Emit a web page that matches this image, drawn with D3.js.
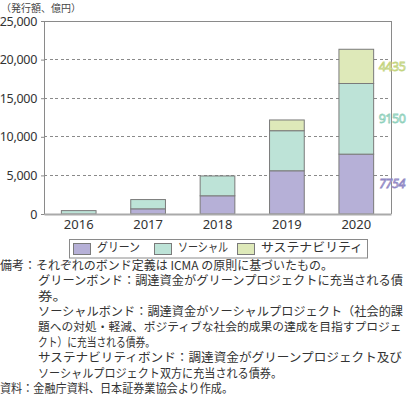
<!DOCTYPE html>
<html>
<head>
<meta charset="utf-8">
<script src="https://cdn.jsdelivr.net/npm/d3@7"></script>
<style>
  html, body { margin: 0; padding: 0; background: #fff; }
  svg { display: block; font-family: "Noto Sans CJK JP", "Noto Sans", sans-serif; }
</style>
</head>
<body>
<svg id="chart" width="407" height="396"></svg>
<script>
// ---- data ----
const years = ["2016", "2017", "2018", "2019", "2020"];
const seriesNames = ["グリーン", "ソーシャル", "サステナビリティ"];
const green = [0, 670, 2360, 5600, 7754];
const social = [440, 1200, 2570, 5190, 9150];
const sustain = [0, 0, 0, 1390, 4435];
const yTicks = [0, 5000, 10000, 15000, 20000, 25000];
const unitLabel = "（発行額、億円）";
const noteLines = [
  "備考：それぞれのボンド定義は ICMA の原則に基づいたもの。",
  "グリーンボンド：調達資金がグリーンプロジェクトに充当される債",
  "券。",
  "ソーシャルボンド：調達資金がソーシャルプロジェクト（社会的課",
  "題への対処・軽減、ポジティブな社会的成果の達成を目指すプロジェ",
  "クト）に充当される債券。",
  "サステナビリティボンド：調達資金がグリーンプロジェクト及び",
  "ソーシャルプロジェクト双方に充当される債券。",
  "資料：金融庁資料、日本証券業協会より作成。"
];

const fills = ["#b6b0d7", "#bde3d7", "#dee9b9"];
const labelFill = ["#efedf8", "#eef8f4", "#f5f8e8"];
const labelStroke = ["#8f87c4", "#8fd0bb", "#c3d47e"];

const svg = d3.select("#chart");
const plotL = 44, plotR = 391, plotT = 21, plotB = 214;

const x = d3.scaleBand().domain(years).range([plotL, plotR]).paddingInner(0.5).paddingOuter(0.25);
const y = d3.scaleLinear().domain([0, 25000]).range([plotB, plotT]);

// stacked data
const table = years.map((yr, i) => ({ year: yr, g: green[i], s: social[i], t: sustain[i] }));
const stack = d3.stack().keys(["g", "s", "t"])(table);

// gridlines (dashed)
svg.append("g").selectAll("line")
  .data(yTicks.filter(v => v > 0 && v < 25000))
  .join("line")
  .attr("x1", plotL).attr("x2", plotR)
  .attr("y1", d => y(d)).attr("y2", d => y(d))
  .attr("stroke", "#8a8a8a").attr("stroke-width", 1)
  .attr("stroke-dasharray", "3,2.5")
  .attr("shape-rendering", "crispEdges");

// frame: top, right
svg.append("line").attr("x1", plotL).attr("x2", plotR).attr("y1", y(25000)).attr("y2", y(25000))
  .attr("stroke", "#8a8a8a").attr("shape-rendering", "crispEdges");
svg.append("line").attr("x1", plotR).attr("x2", plotR).attr("y1", y(25000)).attr("y2", y(0))
  .attr("stroke", "#8a8a8a").attr("shape-rendering", "crispEdges");

// y axis
const yAxis = d3.axisLeft(y).tickValues(yTicks).tickSize(3).tickPadding(4)
  .tickFormat(d3.format(","));
const yg = svg.append("g").attr("transform", `translate(${plotL},0)`).call(yAxis);
yg.select(".domain").attr("stroke", "#8a8a8a");
yg.selectAll(".tick line").attr("stroke", "#8a8a8a");
yg.selectAll(".tick text").attr("fill", "#333").style("font-size", "12.5px")
  .style("font-family", "'Noto Sans', 'Noto Sans CJK JP', sans-serif").style("letter-spacing", "-0.3px");

// bars
svg.append("g").selectAll("g")
  .data(stack)
  .join("g")
  .attr("fill", (d, i) => fills[i])
  .selectAll("rect")
  .data(d => d.filter(p => p[1] - p[0] > 0))
  .join("rect")
  .attr("x", d => x(d.data.year))
  .attr("width", x.bandwidth())
  .attr("y", d => y(d[1]))
  .attr("height", d => y(d[0]) - y(d[1]))
  .attr("stroke", "#7a7a7a").attr("stroke-width", 1);

// x axis
const xAxis = d3.axisBottom(x).tickSize(0).tickPadding(6);
const xg = svg.append("g").attr("transform", `translate(0,${plotB})`).call(xAxis);
xg.select(".domain").attr("stroke", "#aaa").attr("stroke-width", 2);
xg.selectAll(".tick text").attr("fill", "#333").style("font-size", "13px")
  .style("font-family", "'Noto Sans', 'Noto Sans CJK JP', sans-serif");

// 2020 value labels
const last = years.length - 1;
stack.forEach((s, i) => {
  const p = s[last];
  svg.append("text")
    .attr("x", 392)
    .attr("y", (y(p[0]) + y(p[1])) / 2 + 1)
    .attr("text-anchor", "middle")
    .attr("dominant-baseline", "middle")
    .attr("fill", labelFill[i])
    .attr("stroke", labelStroke[i])
    .attr("stroke-width", 0.8)
    .style("font-size", "12.5px")
    .style("font-style", i === 0 ? "italic" : "normal")
    .style("font-family", "'Noto Sans', sans-serif")
    .style("letter-spacing", "-0.5px")
    .text([green, social, sustain][i][last]);
});

// unit label
svg.append("text").attr("x", 1).attr("y", 12).attr("fill", "#444")
  .attr("textLength", 80).attr("lengthAdjust", "spacingAndGlyphs")
  .style("font-size", "10px").text(unitLabel);

// legend
const lg = svg.append("g");
lg.append("rect").attr("x", 69.5).attr("y", 239.5).attr("width", 298).attr("height", 18.5)
  .attr("fill", "#fff").attr("stroke", "#8a8a8a");
const legX = [73, 154, 237];
const legW = [43, 50, 102];
seriesNames.forEach((n, i) => {
  lg.append("rect").attr("x", legX[i] + 0.5).attr("y", 243.5).attr("width", 17).attr("height", 11)
    .attr("fill", fills[i]).attr("stroke", "#7a7a7a");
  lg.append("text").attr("x", legX[i] + 24).attr("y", 249).attr("dominant-baseline", "middle")
    .attr("textLength", legW[i]).attr("lengthAdjust", "spacingAndGlyphs")
    .attr("fill", "#333").style("font-size", "12.5px").text(n);
});

// notes
const noteTop = 266.5, lineH = 15.4;
const noteX = [0, 38, 38, 38, 38, 38, 38, 38, 0];
const noteEnd = [333, 403, 67, 403, 402, 155, 402, 282, 233];
noteLines.forEach((t, i) => {
  const target = noteEnd[i] - noteX[i];
  const el = svg.append("text").attr("x", noteX[i]).attr("y", noteTop + i * lineH)
    .attr("dominant-baseline", "middle")
    .attr("fill", "#333").style("font-size", "12px").text(t);
  const natural = el.node().getComputedTextLength();
  if (noteX[i] + natural > 405) {
    el.style("font-size", (12 * target / natural).toFixed(2) + "px");
  } else {
    el.attr("textLength", target).attr("lengthAdjust", "spacingAndGlyphs");
  }
});
</script>
</body>
</html>
